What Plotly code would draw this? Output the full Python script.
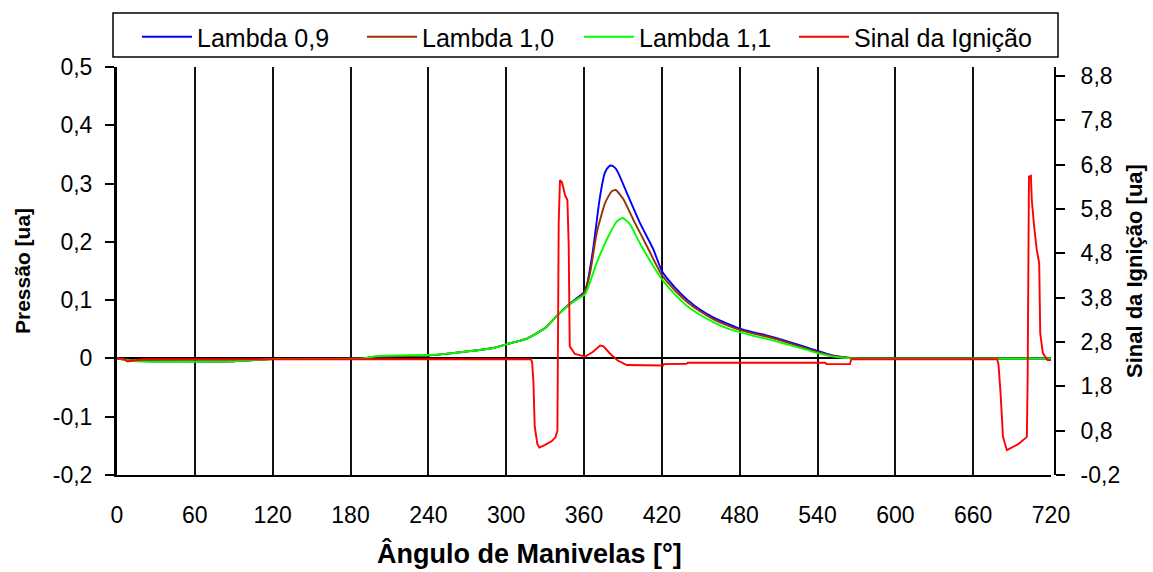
import plotly.graph_objects as go

# ---------------- data ----------------
ang_l09 = [0, 15, 90, 120, 190, 200, 240, 257, 272, 288, 303, 316, 330, 339, 349, 355, 360, 362,
           367, 372, 376, 379, 381, 384, 386.5, 393, 403, 413.5, 420, 430, 440, 450, 460, 470, 480,
           490, 500, 510, 520, 530, 540, 550, 560, 570, 720]
p_l09 = [0, -0.004, -0.005, -0.001, 0.0, 0.003, 0.005, 0.0086, 0.0125, 0.017, 0.026, 0.034, 0.052,
         0.073, 0.094, 0.104, 0.114, 0.124, 0.187, 0.273, 0.318, 0.329, 0.331, 0.327, 0.318, 0.284,
         0.233, 0.187, 0.150, 0.122, 0.100, 0.083, 0.070, 0.060, 0.051, 0.045, 0.040, 0.034, 0.027,
         0.020, 0.013, 0.006, 0.002, 0.0, 0.0]

ang_l10 = [0, 15, 90, 120, 190, 200, 240, 257, 272, 288, 303, 316, 330, 339, 349, 355, 360, 364.7,
           369.8, 376.3, 381.4, 384.5, 390.4, 398, 408.4, 420, 430, 440, 450, 460, 470, 480, 490, 500,
           510, 520, 530, 540, 550, 560, 570, 720]
p_l10 = [0, -0.004, -0.005, -0.001, 0.0, 0.003, 0.005, 0.0086, 0.0125, 0.017, 0.026, 0.034, 0.052,
         0.073, 0.093, 0.103, 0.112, 0.147, 0.215, 0.267, 0.287, 0.289, 0.273, 0.238, 0.193, 0.143,
         0.117, 0.096, 0.080, 0.067, 0.057, 0.049, 0.043, 0.038, 0.032, 0.025, 0.018, 0.011, 0.005,
         0.002, 0.0, 0.0]

ang_l11 = [0, 15, 90, 120, 190, 200, 240, 257, 272, 288, 303, 316, 330, 339, 349, 355, 360.8, 369.8,
           377.6, 385.3, 389.9, 395.5, 403, 413.5, 421, 430, 440, 450, 460, 470, 480, 490, 500, 510,
           520, 530, 540, 550, 560, 570, 720]
p_l11 = [0, -0.005, -0.005, -0.001, 0.0, 0.004, 0.006, 0.0086, 0.0125, 0.017, 0.026, 0.034, 0.052,
         0.073, 0.093, 0.102, 0.110, 0.164, 0.204, 0.235, 0.241, 0.230, 0.198, 0.158, 0.133, 0.110,
         0.089, 0.074, 0.062, 0.052, 0.045, 0.039, 0.034, 0.028, 0.022, 0.016, 0.009, 0.004, 0.001,
         0.0, 0.0]

ang_ign = [0, 5, 8, 12, 20, 319, 320, 321, 322, 324, 325.6, 330, 335, 338, 339.5, 340.5, 341.5,
           343, 344.6, 345.5, 347.2, 348.2, 349, 353, 361, 367, 372.5, 375, 380, 386, 393, 421,
           421.5, 439, 440, 546, 547, 565, 566, 678.5, 679.5, 681, 683, 686, 695, 701.4, 702, 703,
           704.5, 705.2, 707, 709, 710.9, 711.7, 713.7, 715, 717.3, 720]
s_ign = [2.42, 2.42, 2.36, 2.38, 2.41, 2.41, 2.35, 1.9, 0.9, 0.5, 0.42, 0.48, 0.56, 0.65, 0.8, 5.5,
         6.45, 6.4, 6.2, 6.1, 6.0, 5.0, 2.7, 2.53, 2.47, 2.58, 2.72, 2.70, 2.54, 2.38, 2.28, 2.27,
         2.30, 2.31, 2.33, 2.33, 2.30, 2.30, 2.41, 2.41, 2.3, 1.7, 0.66, 0.36, 0.5, 0.66, 2.0, 6.53,
         6.55, 6.0, 5.4, 4.88, 4.58, 3.0, 2.55, 2.5, 2.39, 2.39]

x_ticks = [0, 60, 120, 180, 240, 300, 360, 420, 480, 540, 600, 660, 720]
y_ticks = [-0.2, -0.1, 0, 0.1, 0.2, 0.3, 0.4, 0.5]
y_ticktext = ["-0,2", "-0,1", "0", "0,1", "0,2", "0,3", "0,4", "0,5"]
y2_ticks = [-0.2, 0.8, 1.8, 2.8, 3.8, 4.8, 5.8, 6.8, 7.8, 8.8]
y2_ticktext = ["-0,2", "0,8", "1,8", "2,8", "3,8", "4,8", "5,8", "6,8", "7,8", "8,8"]

names = ["Lambda 0,9", "Lambda 1,0", "Lambda 1,1", "Sinal da Ignição"]
colors = ["#0000FF", "#993300", "#00FF00", "#FF0000"]

FONT = "Liberation Sans, Arial, sans-serif"
W, H = 1153, 572
L, R, T, B = 117, 98, 67, 97
PW = W - L - R          # plot width in px
PH = H - T - B          # plot height in px

def px_x(px):
    return (px - L) / PW

def px_y(py):
    return (H - B - py) / PH

fig = go.Figure()
legend_ids = ["legend", "legend2", "legend3", "legend4"]
for a, p, n, c, lg in [(ang_l09, p_l09, names[0], colors[0], legend_ids[0]),
                       (ang_l10, p_l10, names[1], colors[1], legend_ids[1]),
                       (ang_l11, p_l11, names[2], colors[2], legend_ids[2])]:
    fig.add_trace(go.Scatter(x=a, y=p, name=n, mode="lines", legend=lg,
                             line=dict(color=c, width=1.9, shape="spline", smoothing=0.5),
                             yaxis="y"))
fig.add_trace(go.Scatter(x=ang_ign, y=s_ign, name=names[3], mode="lines", legend=legend_ids[3],
                         line=dict(color=colors[3], width=1.9), yaxis="y2"))

legend_x = [137, 362, 579, 794]

def make_legend(xpx):
    return dict(orientation="h", x=px_x(xpx), y=px_y(37), xref="paper", yref="paper",
                xanchor="left", yanchor="middle",
                font=dict(family=FONT, size=25, color="black"),
                borderwidth=0, bgcolor="rgba(0,0,0,0)", itemwidth=50)

fig.update_layout(
    width=W, height=H,
    margin=dict(l=L, r=R, t=T, b=B, autoexpand=False),
    paper_bgcolor="white", plot_bgcolor="white",
    font=dict(family=FONT, size=23, color="black"),
    showlegend=True,
    legend=make_legend(legend_x[0]),
    legend2=make_legend(legend_x[1]),
    legend3=make_legend(legend_x[2]),
    legend4=make_legend(legend_x[3]),
    xaxis=dict(domain=[0, 934 / PW], range=[0, 720], tickvals=x_ticks,
               ticktext=[str(v) for v in x_ticks],
               showgrid=True, gridcolor="#111", gridwidth=2,
               zeroline=False, showline=True, linecolor="black", linewidth=2,
               ticks="", ticklabelstandoff=18, tickfont=dict(size=23)),
    yaxis=dict(range=[-0.2, 0.5], tickvals=y_ticks, ticktext=y_ticktext,
               showgrid=False, zeroline=True, zerolinecolor="black", zerolinewidth=1.5,
               showline=True, linecolor="black", linewidth=3,
               ticks="outside", ticklen=9, tickwidth=2, tickcolor="black",
               ticklabelstandoff=8, tickfont=dict(size=23)),
    yaxis2=dict(range=[-0.2, 9.0], overlaying="y", side="right", anchor="free", position=1.0,
                tickvals=y2_ticks, ticktext=y2_ticktext,
                showgrid=False, zeroline=False,
                showline=True, linecolor="black", linewidth=2,
                ticks="outside", ticklen=9, tickwidth=2, tickcolor="black",
                ticklabelstandoff=11, tickfont=dict(size=23)),
)

# legend frame
fig.add_shape(type="rect", xref="paper", yref="paper",
              x0=px_x(113), x1=px_x(1058), y0=px_y(57), y1=px_y(13),
              line=dict(color="black", width=1.5), fillcolor="rgba(0,0,0,0)", layer="above")

fig.add_annotation(text="<b>Ângulo de Manivelas [°]</b>", xref="paper", yref="paper",
                   x=px_x(529), y=px_y(553), xanchor="center", yanchor="middle", showarrow=False,
                   font=dict(family=FONT, size=27, color="black"))
fig.add_annotation(text="<b>Pressão [ua]</b>", xref="paper", yref="paper",
                   x=px_x(22), y=0.5, xanchor="center", yanchor="middle", showarrow=False,
                   textangle=-90, font=dict(family=FONT, size=21, color="black"))
fig.add_annotation(text="<b>Sinal da Ignição [ua]</b>", xref="paper", yref="paper",
                   x=px_x(1134), y=0.5, xanchor="center", yanchor="middle", showarrow=False,
                   textangle=-90, font=dict(family=FONT, size=22, color="black"))

fig.write_html("out.html", post_script="document.body.style.margin='0';",
               config={"displayModeBar": False})
